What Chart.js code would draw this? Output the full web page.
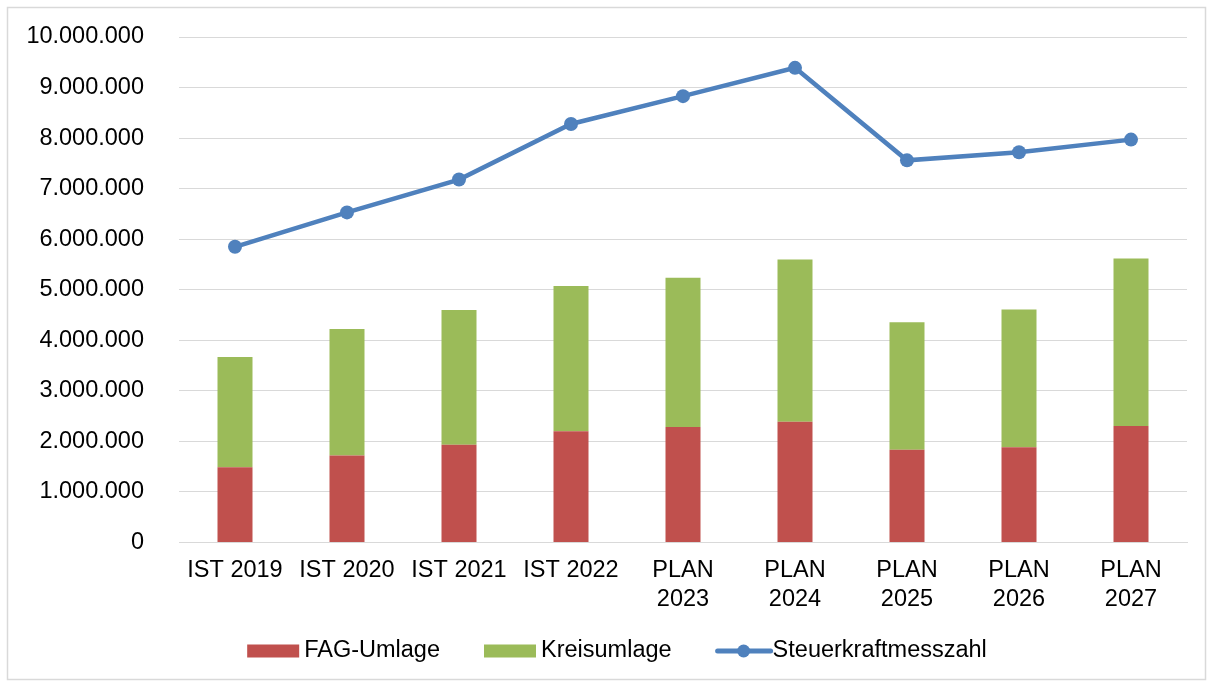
<!DOCTYPE html>
<html>
<head>
<meta charset="utf-8">
<script src="https://cdn.jsdelivr.net/npm/chart.js@4"></script>
<style>
  html, body { margin: 0; padding: 0; background: #fff; }
  canvas { display: block; }
</style>
</head>
<body>
<canvas id="c" width="1213" height="684"></canvas>
<script>
const categories = [
  ['IST 2019'], ['IST 2020'], ['IST 2021'], ['IST 2022'],
  ['PLAN', '2023'], ['PLAN', '2024'], ['PLAN', '2025'], ['PLAN', '2026'], ['PLAN', '2027']
];
const fagUmlage = [1490000, 1720000, 1935000, 2200000, 2285000, 2390000, 1836000, 1884000, 2305000];
const kreisumlage = [2180000, 2505000, 2665000, 2876000, 2950000, 3210000, 2521000, 2723000, 3315000];
const steuerkraftmesszahl = [5850000, 6530000, 7180000, 8280000, 8830000, 9390000, 7560000, 7720000, 7970000];
const yTickMin = 0;
const yTickMax = 10000000;
const yTickStep = 1000000;

const FONT = '"Liberation Sans", Arial, sans-serif';
const FS = 23.5;
const RED = '#C0504D', GREEN = '#9BBB59', BLUE = '#4F81BD', GRID = '#D9D9D9';

function fmt(v) {
  return String(Math.round(v)).replace(/\B(?=(\d{3})+(?!\d))/g, '.');
}

const frameAndLegend = {
  id: 'frameAndLegend',
  beforeDraw(chart) {
    const ctx = chart.ctx;
    ctx.save();
    ctx.fillStyle = '#fff';
    ctx.fillRect(0, 0, chart.width, chart.height);
    ctx.restore();
  },
  afterDraw(chart) {
    const ctx = chart.ctx;
    ctx.save();
    ctx.strokeStyle = GRID;
    ctx.lineWidth = 1.5;
    ctx.strokeRect(7.5, 7.5, 1198, 672);
    // legend
    const y = 651;
    ctx.font = FS + 'px ' + FONT;
    ctx.textBaseline = 'middle';
    ctx.fillStyle = '#000';
    const items = [
      { type: 'box', color: RED, text: chart.data.datasets[0].label },
      { type: 'box', color: GREEN, text: chart.data.datasets[1].label },
      { type: 'line', color: BLUE, text: chart.data.datasets[2].label }
    ];
    const symW = 52, gapText = 5, gapItem = 44;
    let total = 0;
    items.forEach((it, i) => {
      it.w = symW + gapText + ctx.measureText(it.text).width;
      total += it.w + (i ? gapItem : 0);
    });
    let x = 617 - total / 2;
    items.forEach((it) => {
      if (it.type === 'box') {
        ctx.fillStyle = it.color;
        ctx.fillRect(x, y - 6.5, symW, 13);
      } else {
        ctx.strokeStyle = it.color;
        ctx.lineWidth = 5;
        ctx.lineCap = 'round';
        ctx.beginPath();
        ctx.moveTo(x + 2, y);
        ctx.lineTo(x + symW + 3, y);
        ctx.stroke();
        ctx.fillStyle = it.color;
        ctx.beginPath();
        ctx.arc(x + symW / 2 + 2, y, 6.5, 0, Math.PI * 2);
        ctx.fill();
      }
      ctx.fillStyle = '#000';
      ctx.fillText(it.text, x + symW + gapText, y);
      x += it.w + gapItem;
    });
    ctx.restore();
  }
};

new Chart(document.getElementById('c'), {
  data: {
    labels: categories,
    datasets: [
      { type: 'bar', label: 'FAG-Umlage', data: fagUmlage, backgroundColor: RED, stack: 's', order: 1,
        barPercentage: 0.3125, categoryPercentage: 1 },
      { type: 'bar', label: 'Kreisumlage', data: kreisumlage, backgroundColor: GREEN, stack: 's', order: 1,
        barPercentage: 0.3125, categoryPercentage: 1 },
      { type: 'line', label: 'Steuerkraftmesszahl', data: steuerkraftmesszahl, borderColor: BLUE,
        backgroundColor: BLUE, borderWidth: 4.5, pointRadius: 7, pointHoverRadius: 7,
        pointBackgroundColor: BLUE, pointBorderColor: BLUE, pointBorderWidth: 0, tension: 0, order: 0 }
    ]
  },
  options: {
    responsive: false,
    animation: false,
    devicePixelRatio: 1,
    layout: { padding: { top: 37, right: 26, bottom: 61.5, left: 0 } },
    plugins: { legend: { display: false }, tooltip: { enabled: false } },
    scales: {
      x: {
        stacked: true,
        grid: { display: false, drawTicks: false },
        border: { display: true, color: GRID, width: 1 },
        ticks: { color: '#000', font: { family: FONT, size: FS, lineHeight: 1.22 }, padding: 14,
                 maxRotation: 0, autoSkip: false },
        afterFit(scale) { scale.height = 80; }
      },
      y: {
        stacked: true,
        min: yTickMin, max: yTickMax,
        grid: { color: GRID, lineWidth: 1, drawTicks: true, tickLength: 32, tickColor: 'rgba(0,0,0,0)' },
        border: { display: false },
        ticks: { stepSize: yTickStep, color: '#000', font: { family: FONT, size: FS }, padding: 3,
                 callback: (v) => fmt(v) },
        afterFit(scale) { scale.width = 179; }
      }
    }
  },
  plugins: [frameAndLegend]
});
</script>
</body>
</html>
